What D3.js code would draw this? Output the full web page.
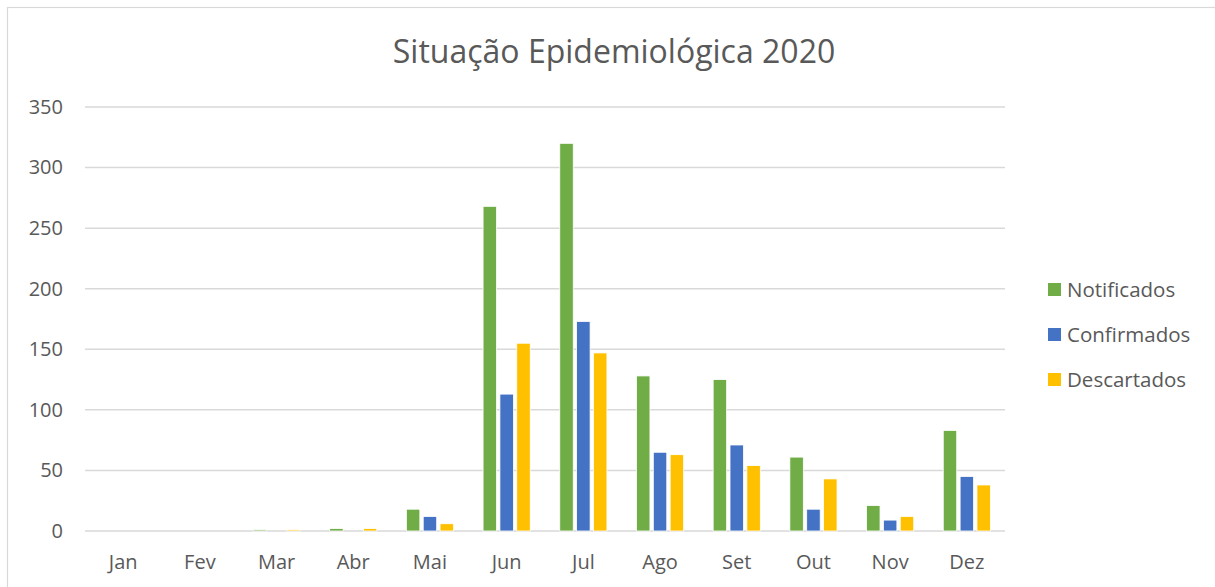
<!DOCTYPE html>
<head>
<meta charset="utf-8">
<script src="https://cdn.jsdelivr.net/npm/d3@7"></script>
<style>
  body { margin: 0; background: #fff; }
  text { font-family: "Open Sans", sans-serif; fill: #595959; }
</style>
</head>
<body>
<svg width="1215" height="587"></svg>

<script>
    // dados
    var meses = ["Jan", "Fev", "Mar", "Abr", "Mai", "Jun", "Jul", "Ago", "Set", "Out", "Nov", "Dez"];
    var notificados = [0, 0, 1, 2, 18, 268, 320, 128, 125, 61, 21, 83];
    var confirmados = [0, 0, 0, 0, 12, 113, 173, 65, 71, 18, 9, 45];
    var descartados = [0, 0, 1, 2, 6, 155, 147, 63, 54, 43, 12, 38];
    var series = ["Notificados", "Confirmados", "Descartados"];
    var cores = ["#70ad47", "#4472c4", "#ffc000"];
    var yTicks = [0, 50, 100, 150, 200, 250, 300, 350];

    var data = meses.map(function(m, i) {
        return { mes: m, Notificados: notificados[i], Confirmados: confirmados[i], Descartados: descartados[i] };
    });

    var svg = d3.select("svg"),
        margin = {top: 107, right: 210, bottom: 56, left: 85},
        width = +svg.attr("width") - margin.left - margin.right,
        height = +svg.attr("height") - margin.top - margin.bottom;

    // borda do gráfico (sai da imagem à direita e embaixo)
    svg.append("rect")
        .attr("x", 7.5).attr("y", 7.5)
        .attr("width", 1230).attr("height", 610)
        .attr("fill", "none")
        .attr("stroke", "#d9d9d9")
        .attr("stroke-width", 1.2);

    var g = svg.append("g").attr("transform", "translate(" + margin.left + "," + margin.top + ")");

    var x0 = d3.scaleBand().domain(meses).range([0, width]).paddingInner(0.385).paddingOuter(0.19);
    var x1 = d3.scaleBand().domain(series).range([0, x0.bandwidth()]).paddingInner(0.2);
    var y = d3.scaleLinear().domain([0, 350]).range([height, 0]);
    var z = d3.scaleOrdinal().domain(series).range(cores);

    // grade
    g.append("g")
        .selectAll("line")
        .data(yTicks)
        .enter().append("line")
        .attr("x1", 0).attr("x2", width)
        .attr("y1", function(d) { return y(d); })
        .attr("y2", function(d) { return y(d); })
        .attr("stroke", "#d9d9d9")
        .attr("stroke-width", 1.5);

    // eixo y
    var yAxis = g.append("g")
        .call(d3.axisLeft(y).tickValues(yTicks).tickSize(0).tickPadding(22));
    yAxis.select(".domain").remove();
    yAxis.selectAll("text").style("font-size", "20px").attr("fill", "#595959");

    // eixo x
    var xAxis = g.append("g")
        .attr("transform", "translate(0," + height + ")")
        .call(d3.axisBottom(x0).tickSize(0).tickPadding(24));
    xAxis.select(".domain").remove();
    xAxis.selectAll("text").style("font-size", "20px").attr("fill", "#595959");

    // barras
    g.append("g")
        .selectAll("g")
        .data(data)
        .enter().append("g")
        .attr("transform", function(d) { return "translate(" + x0(d.mes) + ",0)"; })
        .selectAll("rect")
        .data(function(d) { return series.map(function(k) { return {key: k, value: d[k]}; }); })
        .enter().append("rect")
        .attr("x", function(d) { return x1(d.key); })
        .attr("y", function(d) { return y(d.value); })
        .attr("width", x1.bandwidth())
        .attr("height", function(d) { return height - y(d.value); })
        .attr("fill", function(d) { return z(d.key); })
        .attr("stroke", "#fff")
        .attr("stroke-width", 0.8);

    // título
    svg.append("text")
        .attr("x", 614)
        .attr("y", 63)
        .attr("text-anchor", "middle")
        .style("font-size", "32px")
        .text("Situação Epidemiológica 2020");

    // legenda
    var legend = svg.append("g")
        .selectAll("g")
        .data(series)
        .enter().append("g")
        .attr("transform", function(d, i) { return "translate(1048," + (283 + i * 45) + ")"; });

    legend.append("rect")
        .attr("width", 13)
        .attr("height", 13)
        .attr("fill", z);

    legend.append("text")
        .attr("x", 19)
        .attr("y", 6.5)
        .attr("dy", "0.35em")
        .style("font-size", "20.5px")
        .text(function(d) { return d; });
</script>
</body>
